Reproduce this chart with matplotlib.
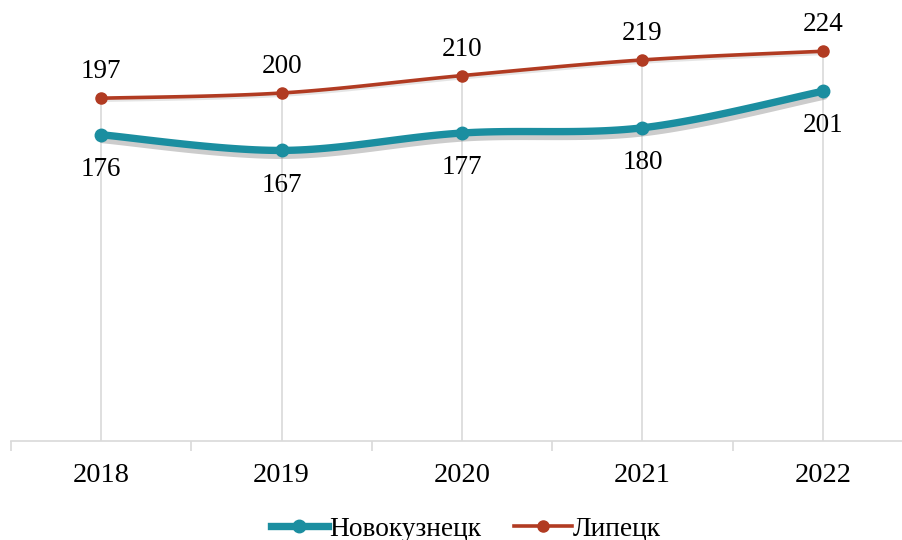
import matplotlib
matplotlib.use('Agg')
import matplotlib.pyplot as plt
import matplotlib.patheffects as pe
import numpy as np

years = ['2018', '2019', '2020', '2021', '2022']
novokuznetsk = [176, 167, 177, 180, 201]
lipetsk = [197, 200, 210, 219, 224]

teal = '#1b8ea0'
red = '#b13b22'

plt.rcParams['font.family'] = ['Liberation Serif', 'DejaVu Serif']


def smooth(xs, ys, n=30):
    ### Catmull-Rom curve through the points (like Excel smoothed line)
    xs = np.asarray(xs, float)
    ys = np.asarray(ys, float)
    px = np.concatenate([[xs[0]], xs, [xs[-1]]])
    py = np.concatenate([[ys[0]], ys, [ys[-1]]])
    outx, outy = [], []
    for i in range(1, len(px) - 2):
        t = np.linspace(0, 1, n)
        for p, out in ((px, outx), (py, outy)):
            p0, p1, p2, p3 = p[i - 1], p[i], p[i + 1], p[i + 2]
            out.extend(0.5 * ((2 * p1) + (-p0 + p2) * t
                              + (2 * p0 - 5 * p1 + 4 * p2 - p3) * t ** 2
                              + (-p0 + 3 * p1 - 3 * p2 + p3) * t ** 3))
    return outx, outy


fig = plt.figure(figsize=(9.02, 5.4), dpi=100)
ax = fig.add_axes([11 / 902, 99 / 540, 902 / 902, 435 / 540])

x = np.arange(len(years))

# drop lines
ax.vlines(x, 0, lipetsk, color='#d9d9d9', lw=1.2, zorder=1)

sx, sy = smooth(x, novokuznetsk)
ax.plot(sx, sy, color=teal, lw=5.3, solid_capstyle='round', zorder=3,
        path_effects=[pe.SimpleLineShadow(offset=(1, -3.5), shadow_color='gray', alpha=0.4, rho=0.3),
                      pe.Normal()])
ax.plot(x, novokuznetsk, 'o', color=teal, ms=9, zorder=4)

sx, sy = smooth(x, lipetsk)
ax.plot(sx, sy, color=red, lw=2.6, zorder=3,
        path_effects=[pe.SimpleLineShadow(offset=(0.5, -1.5), shadow_color='gray', alpha=0.2, rho=0.3),
                      pe.Normal()])
ax.plot(x, lipetsk, 'o', color=red, ms=8, zorder=4)

for xi, v in zip(x, lipetsk):
    ax.annotate(str(v), (xi, v), xytext=(0, 19), textcoords='offset points',
                ha='center', va='center', fontsize=19.5)
for xi, v in zip(x, novokuznetsk):
    ax.annotate(str(v), (xi, v), xytext=(0, -25), textcoords='offset points',
                ha='center', va='center', fontsize=19.5)

# legend proxies
ax.plot([], [], '-o', color=teal, lw=5.3, ms=9, label='Новокузнецк')
ax.plot([], [], '-o', color=red, lw=2.6, ms=8, label='Липецк')

ax.set_xlim(-0.5, 4.5)
ax.set_ylim(0, 250)
ax.set_yticks([])
for s in ['top', 'right', 'left']:
    ax.spines[s].set_visible(False)
ax.spines['bottom'].set_color('#d9d9d9')
ax.spines['bottom'].set_linewidth(1.2)

ax.set_xticks(x - 0.5, minor=False)
ax.set_xticklabels([])
ax.tick_params(axis='x', which='major', length=7, color='#d9d9d9', width=1.2)
ax.set_xticks(x, minor=True)
ax.set_xticklabels(years, minor=True, fontsize=20.5)
ax.tick_params(axis='x', which='minor', length=0, pad=16)

handles = [h for h in ax.get_lines() if h.get_label() in ('Новокузнецк', 'Липецк')]
fig.legend(handles=handles, labels=['Новокузнецк', 'Липецк'], loc='center',
           bbox_to_anchor=(466 / 902, 1 - 529 / 540), ncol=2, frameon=False,
           fontsize=19.7, handlelength=2.1, handletextpad=0.05, columnspacing=1.2)

fig.savefig('out.png', dpi=100)
